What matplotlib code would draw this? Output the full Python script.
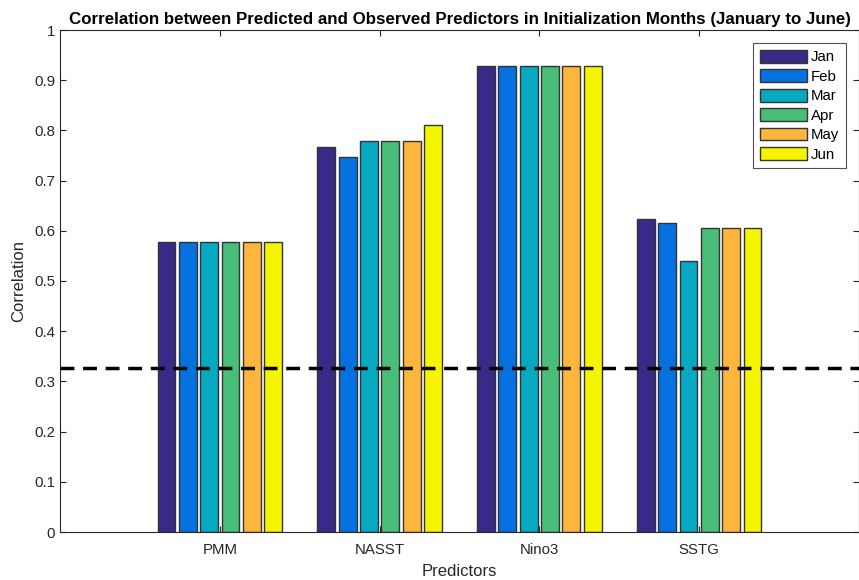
import matplotlib
matplotlib.use("Agg")
import matplotlib.pyplot as plt
import numpy as np

plt.rcParams['font.family'] = ['Liberation Sans', 'DejaVu Sans']

predictors = ["PMM", "NASST", "Nino3", "SSTG"]
months = ["Jan", "Feb", "Mar", "Apr", "May", "Jun"]
values = {
    "Jan": [0.578, 0.766, 0.928, 0.624],
    "Feb": [0.578, 0.748, 0.928, 0.616],
    "Mar": [0.578, 0.778, 0.928, 0.540],
    "Apr": [0.578, 0.778, 0.928, 0.605],
    "May": [0.578, 0.778, 0.928, 0.605],
    "Jun": [0.578, 0.811, 0.928, 0.605],
}
threshold = 0.326
colors = ["#3a2a87", "#0571df", "#07a9c1", "#48be79", "#fdb63d", "#f5f500"]
yticks = [0, 0.1, 0.2, 0.3, 0.4, 0.5, 0.6, 0.7, 0.8, 0.9, 1]
ytick_labels = ["0", "0.1", "0.2", "0.3", "0.4", "0.5", "0.6", "0.7", "0.8", "0.9", "1"]

fig = plt.figure(figsize=(8.59, 5.80), dpi=100)
ax = fig.add_axes([60/859, 48/580, 799/859, 502/580])

x = np.arange(1, len(predictors) + 1)
pitch = 0.1335
width = 0.112
for i, m in enumerate(months):
    ax.bar(x + (i - 2.5) * pitch, values[m], width=width, color=colors[i],
           edgecolor="#333333", linewidth=1.0, label=m, zorder=2)

ax.axhline(threshold, color="black", linestyle=(0, (4, 2.5)), linewidth=2.5, zorder=3)

ax.set_xlim(0, 5)
ax.set_ylim(0, 1)
ax.set_xticks(x)
ax.set_xticklabels(predictors)
ax.set_yticks(yticks)
ax.set_yticklabels(ytick_labels)
ax.tick_params(direction="in", top=True, right=True, labelsize=10.8, length=4,
               color="#262626", labelcolor="#262626")
ax.tick_params(axis="x", pad=8)
for s in ax.spines.values():
    s.set_color("#262626")
    s.set_linewidth(0.8)

ax.set_xlabel("Predictors", fontsize=12, color="#262626", labelpad=5)
ax.set_ylabel("Correlation", fontsize=12, color="#262626", labelpad=6)
ax.set_title("Correlation between Predicted and Observed Predictors in Initialization Months (January to June)",
             fontsize=12.2, fontweight="bold", pad=4)

leg = ax.legend(loc="upper right", bbox_to_anchor=(0.984, 0.974), borderaxespad=0,
                fontsize=10.8, frameon=True, fancybox=False, edgecolor="#262626",
                handlelength=3.1, handleheight=0.95, labelspacing=0.32,
                handletextpad=0.3, borderpad=0.45)
leg.get_frame().set_linewidth(0.8)

fig.savefig("out.png", dpi=100)
